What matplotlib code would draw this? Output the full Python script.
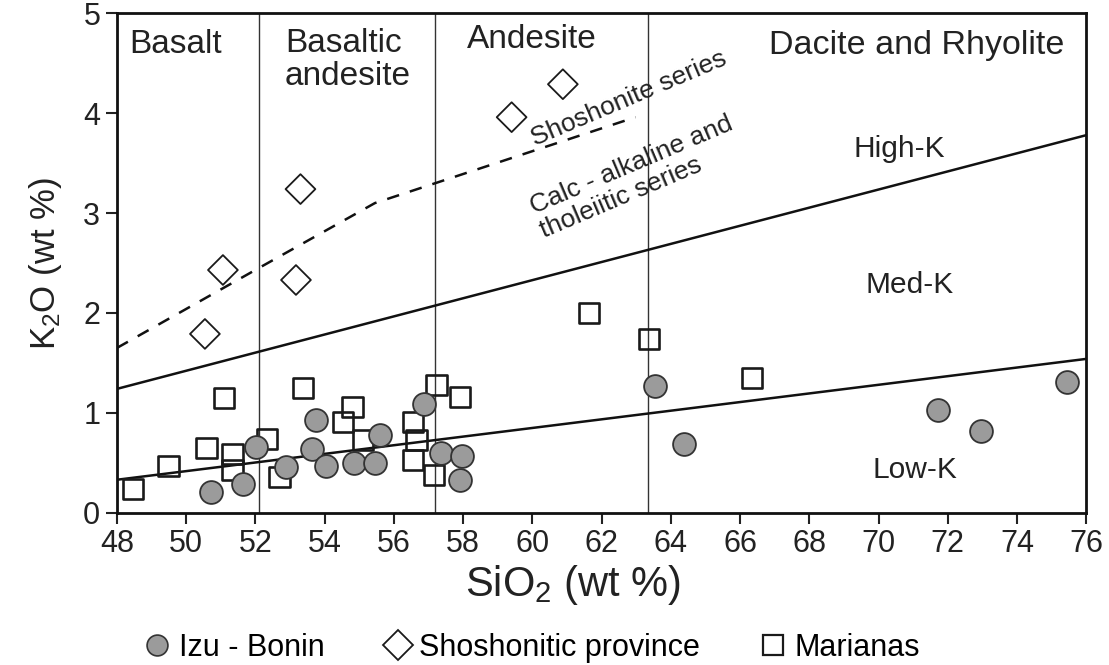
import matplotlib
matplotlib.use("Agg")
import matplotlib.pyplot as plt
from matplotlib.lines import Line2D

plt.rcParams['font.family'] = ['Liberation Sans', 'DejaVu Sans']
plt.rcParams['mathtext.fontset'] = 'custom'
plt.rcParams['mathtext.rm'] = 'Liberation Sans'
plt.rcParams['mathtext.default'] = 'regular'

# Izu - Bonin (grey circles)
izu_x = [50.71, 51.65, 52.01, 52.87, 53.62, 53.74, 54.05, 54.84, 55.45, 55.59,
         56.87, 57.37, 57.97, 57.90, 63.54, 64.39, 71.71, 72.96, 75.43]
izu_y = [0.21, 0.29, 0.66, 0.46, 0.64, 0.93, 0.47, 0.50, 0.50, 0.78,
         1.09, 0.60, 0.57, 0.33, 1.27, 0.69, 1.03, 0.82, 1.31]

# Shoshonitic province (open diamonds)
sho_x = [50.54, 51.06, 53.17, 53.30, 59.40, 60.88]
sho_y = [1.79, 2.43, 2.33, 3.24, 3.96, 4.29]

# Marianas (open squares)
mar_x = [48.47, 49.49, 50.59, 51.10, 51.34, 51.34, 52.34, 52.69, 53.38, 54.52, 54.80,
         55.11, 56.55, 56.65, 56.55, 57.16, 57.23, 57.90, 61.63, 63.37, 66.35]
mar_y = [0.24, 0.47, 0.65, 1.15, 0.59, 0.43, 0.74, 0.36, 1.25, 0.91, 1.06,
         0.73, 0.91, 0.73, 0.53, 0.38, 1.28, 1.16, 2.00, 1.74, 1.35]

# series boundaries
lowk_x, lowk_y = [48, 76], [0.33, 1.54]
highk_x, highk_y = [48, 76], [1.24, 3.78]
shosh_x, shosh_y = [48, 52.15, 55.45, 62.98], [1.65, 2.46, 3.1, 3.96]
rock_bounds = [52.1, 57.2, 63.35]

fig = plt.figure(figsize=(11.09, 6.65), dpi=100)
ax = fig.add_axes([0.1055, 0.229, 0.874, 0.751])

for b in rock_bounds:
    ax.axvline(b, color='#333333', lw=1.0, zorder=1)

ax.plot(lowk_x, lowk_y, color='#111111', lw=1.8, zorder=2)
ax.plot(highk_x, highk_y, color='#111111', lw=1.8, zorder=2)
ax.plot(shosh_x, shosh_y, color='#111111', lw=1.8, ls=(0, (5, 4.5)), zorder=2)

ax.scatter(mar_x, mar_y, marker='s', s=215, facecolors='none',
           edgecolors='#1a1a1a', linewidths=1.9, zorder=3)
ax.scatter(izu_x, izu_y, marker='o', s=270, facecolors='#9b9b9b',
           edgecolors='#333333', linewidths=1.3, zorder=4)
ax.scatter(sho_x, sho_y, marker='D', s=230, facecolors='none',
           edgecolors='#1a1a1a', linewidths=1.3, zorder=5)

ax.set_xlim(48, 76)
ax.set_ylim(0, 5)
ax.set_xticks(range(48, 77, 2))
ax.set_yticks(range(0, 6))
ax.tick_params(direction='out', length=8, width=1.5, labelsize=22,
               colors='#222222', pad=4)
for sp in ax.spines.values():
    sp.set_linewidth(2.0)
    sp.set_color('#111111')

ax.set_xlabel('SiO$_2$ (wt %)', fontsize=30, color='#222222')
ax.xaxis.set_label_coords(0.47, -0.10)
ax.set_ylabel('K$_2$O (wt %)', fontsize=25, color='#222222', labelpad=14)

tc = '#222222'
ax.text(49.7, 4.69, 'Basalt', fontsize=24, ha='center', va='center', color=tc)
ax.text(52.85, 4.53, 'Basaltic\nandesite', fontsize=24, ha='left', va='center',
        color=tc, linespacing=1.1)
ax.text(59.98, 4.74, 'Andesite', fontsize=24, ha='center', va='center', color=tc)
ax.text(71.1, 4.68, 'Dacite and Rhyolite', fontsize=24.5, ha='center', va='center', color=tc)

ax.text(62.8, 4.15, 'Shoshonite series', fontsize=19, rotation=23,
        ha='center', va='center', color=tc, rotation_mode='anchor')
ax.text(63.0, 3.36, 'Calc - alkaline and\ntholeiitic series', fontsize=19,
        rotation=23, ha='center', va='center', color=tc, rotation_mode='anchor',
        linespacing=1.1, multialignment='left')
ax.text(70.6, 3.64, 'High-K', fontsize=21.5, ha='center', va='center', color=tc)
ax.text(70.9, 2.28, 'Med-K', fontsize=21.5, ha='center', va='center', color=tc)
ax.text(71.04, 0.43, 'Low-K', fontsize=21.5, ha='center', va='center', color=tc)

handles = [
    Line2D([], [], ls='none', marker='o', markersize=15, markerfacecolor='#9b9b9b',
           markeredgecolor='#333333', markeredgewidth=1.2, label='Izu - Bonin'),
    Line2D([], [], ls='none', marker='D', markersize=15, markerfacecolor='none',
           markeredgecolor='#1a1a1a', markeredgewidth=1.3, label='Shoshonitic province'),
    Line2D([], [], ls='none', marker='s', markersize=14, markerfacecolor='none',
           markeredgecolor='#1a1a1a', markeredgewidth=1.6, label='Marianas'),
]
leg = fig.legend(handles=handles, loc='center', bbox_to_anchor=(0.479, 0.026),
                 ncol=3, frameon=False, handletextpad=0.2,
                 columnspacing=1.9, handlelength=1.0,
                 prop={'family': ['Liberation Sans'], 'size': 22})

fig.savefig('out.png', dpi=100)
